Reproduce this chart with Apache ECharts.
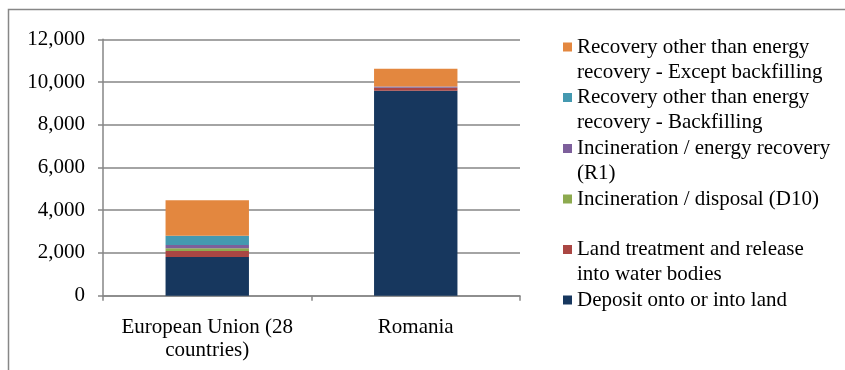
<!DOCTYPE html>
<html>
<head>
<meta charset="utf-8">
<script src="https://cdn.jsdelivr.net/npm/echarts@6/dist/echarts.min.js"></script>
<style>
  html, body { margin: 0; padding: 0; background: #fff; }
  #chart { width: 845px; height: 370px; }
</style>
</head>
<body>
<div id="chart"></div>
<script>
// Waste treatment by operation, stacked per region
const categories = ['European Union (28\ncountries)', 'Romania'];

const seriesNames = [
  'Deposit onto or into land',
  'Land treatment and release into water bodies',
  'Incineration / disposal (D10)',
  'Incineration / energy recovery (R1)',
  'Recovery other than energy recovery - Backfilling',
  'Recovery other than energy recovery - Except backfilling'
];

const depositLand      = [1810, 9590];
const landTreatment    = [280, 130];
const incinerationD10  = [125, 10];
const incinerationR1   = [155, 60];
const backfilling      = [435, 0];
const exceptBackfill   = [1660, 830];

const yTicks = [0, 2000, 4000, 6000, 8000, 10000, 12000];

const seriesValues = [depositLand, landTreatment, incinerationD10, incinerationR1, backfilling, exceptBackfill];
const colors = ['#17375E', '#AA4643', '#8DAA4F', '#7D5F9B', '#4499B0', '#E3873F'];

// Wrapped legend labels
const legendText = {
  'Recovery other than energy recovery - Except backfilling': 'Recovery other than energy\nrecovery - Except backfilling',
  'Recovery other than energy recovery - Backfilling': 'Recovery other than energy\nrecovery - Backfilling',
  'Incineration / energy recovery (R1)': 'Incineration / energy recovery\n(R1)',
  'Incineration / disposal (D10)': 'Incineration / disposal (D10)',
  'Land treatment and release into water bodies': 'Land treatment and release\ninto water bodies',
  'Deposit onto or into land': 'Deposit onto or into land'
};

const FONT = '"Liberation Serif", "Times New Roman", serif';
const FS = 21;
const LINE = 25;

// Legend entries listed top to bottom, with the centre y of each marker
const legendOrder = seriesNames.slice().reverse();
const markerCentres = [47, 97.5, 148.5, 199, 249.5, 300];

// Two-line entries get an empty leading line so the marker sits beside the first line
const legends = legendOrder.map((name, i) => {
  const twoLines = legendText[name].indexOf('\n') >= 0;
  return {
    data: [name],
    orient: 'vertical',
    left: 563,
    top: markerCentres[i] - (twoLines ? 37.5 : 12.5),
    padding: 0,
    itemWidth: 9,
    itemHeight: 9,
    itemGap: 0,
    icon: 'rect',
    selectedMode: false,
    formatter: n => (twoLines ? '\n' : '') + legendText[n],
    textStyle: {
      fontFamily: FONT,
      fontSize: FS,
      color: '#000',
      lineHeight: LINE
    }
  };
});

const chart = echarts.init(document.getElementById('chart'), null, { renderer: 'canvas' });

chart.setOption({
  animation: false,
  backgroundColor: '#fff',
  color: colors,
  textStyle: { fontFamily: FONT, fontSize: FS, color: '#000' },
  graphic: [{
    type: 'rect',
    shape: { x: 8.5, y: 9.5, width: 900, height: 400 },
    style: { fill: 'none', stroke: '#878787', lineWidth: 1.5 },
    silent: true
  }],
  legend: legends,
  grid: { left: 103, right: 325, top: 39.3, bottom: 74.3, containLabel: false },
  xAxis: {
    type: 'category',
    data: categories,
    axisLine: { lineStyle: { color: '#868686', width: 1.5 } },
    axisTick: { show: true, length: 5, lineStyle: { color: '#868686', width: 1.5 } },
    axisLabel: {
      fontFamily: FONT, fontSize: FS, color: '#000',
      lineHeight: 23, margin: 20, interval: 0, hideOverlap: false
    }
  },
  yAxis: {
    type: 'value',
    min: 0,
    max: 12000,
    interval: 2000,
    axisLine: { show: true, lineStyle: { color: '#868686', width: 1.5 } },
    axisTick: { show: true, length: 5, lineStyle: { color: '#868686', width: 1.5 } },
    splitLine: { lineStyle: { color: '#868686', width: 1.5 } },
    axisLabel: {
      fontFamily: FONT, fontSize: FS, color: '#000', margin: 18,
      formatter: v => yTicks.indexOf(v) >= 0 ? v.toLocaleString('en-US') : ''
    }
  },
  series: seriesNames.map((name, i) => ({
    name: name,
    type: 'bar',
    stack: 'total',
    barCategoryGap: '60%',
    data: seriesValues[i],
    itemStyle: { color: colors[i] }
  }))
});
</script>
</body>
</html>
